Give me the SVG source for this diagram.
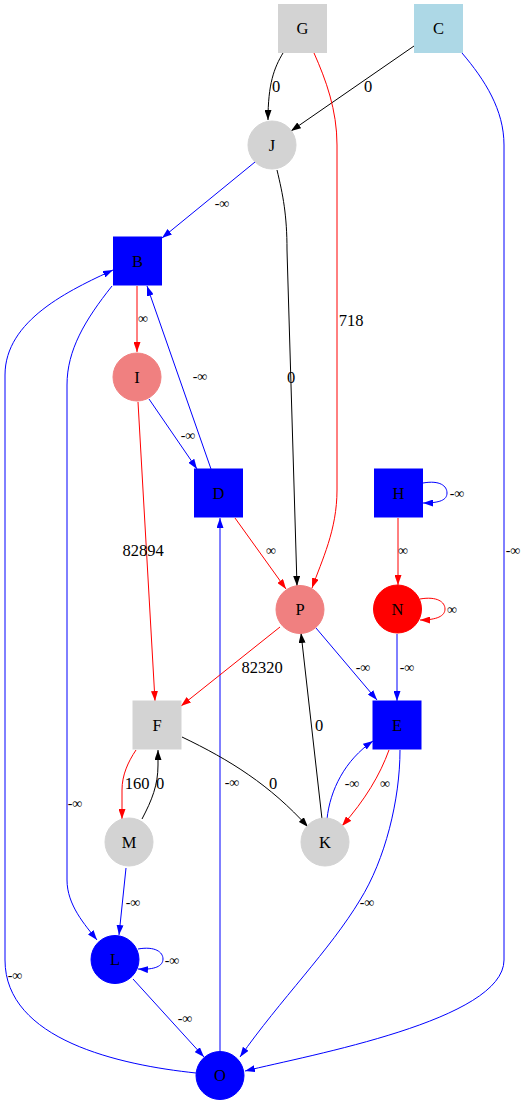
<svg xmlns="http://www.w3.org/2000/svg" width="529" height="1105" viewBox="0 0 529 1105">
<style>
text{font-family:"Liberation Serif","Times New Roman",serif;font-size:16.5px;text-anchor:middle;fill:#000}
text.i{font-size:14px}
.e path{fill:none;stroke-width:1}
.k{stroke:#000}
.r{stroke:#f00}
.b{stroke:#00f}
.gray{fill:#d3d3d3;stroke:#d3d3d3}
.lb{fill:#add8e6;stroke:#add8e6}
.bl{fill:#00f;stroke:#00f}
.rd{fill:#f00;stroke:#f00}
.lc{fill:#f08080;stroke:#f08080}
</style>
<defs>
<marker id="ak" markerUnits="userSpaceOnUse" markerWidth="10" markerHeight="7" refX="10" refY="3.5" orient="auto"><path d="M0,0 L10,3.5 L0,7 z" fill="#000"/></marker>
<marker id="ar" markerUnits="userSpaceOnUse" markerWidth="10" markerHeight="7" refX="10" refY="3.5" orient="auto"><path d="M0,0 L10,3.5 L0,7 z" fill="#f00"/></marker>
<marker id="ab" markerUnits="userSpaceOnUse" markerWidth="10" markerHeight="7" refX="10" refY="3.5" orient="auto"><path d="M0,0 L10,3.5 L0,7 z" fill="#00f"/></marker>
</defs>
<rect width="529" height="1105" fill="#fff"/>
<g id="edges" class="e">
<path class="k" marker-end="url(#ak)" d="M283,53 C274,68 268,84 268,120"/>
<text x="276" y="92">0</text>
<path class="k" marker-end="url(#ak)" d="M414,46 L291,131"/>
<text x="368" y="92">0</text>
<path class="r" marker-end="url(#ar)" d="M314,53 C326,80 337,110 337,145 L337,490 C337,530 322,560 312,588"/>
<text x="351" y="326">718</text>
<path class="b" marker-end="url(#ab)" d="M462,53 C485,80 504,110 504,145 L504,960 C504,1020 310,1055 245,1071"/>
<text class="i" x="513" y="555">-∞</text>
<path class="b" marker-end="url(#ab)" d="M255,162 L162,238"/>
<text class="i" x="222" y="208">-∞</text>
<path class="k" marker-end="url(#ak)" d="M277,170 C283,195 287,215 287,250 L297,586"/>
<text x="291" y="383">0</text>
<path class="r" marker-end="url(#ar)" d="M137,286 L137,352"/>
<text class="i" x="143" y="323">∞</text>
<path class="b" marker-end="url(#ab)" d="M112,286 C85,320 67,350 67,385 L67,880 C67,905 85,925 97,940"/>
<text class="i" x="75" y="808">-∞</text>
<path class="b" marker-end="url(#ab)" d="M196,1073 C120,1065 5,1040 5,960 L5,375 C5,320 70,290 113,270"/>
<text class="i" x="15" y="980">-∞</text>
<path class="b" marker-end="url(#ab)" d="M211,469 L147,286"/>
<text class="i" x="200" y="381">-∞</text>
<path class="b" marker-end="url(#ab)" d="M149,399 L197,469"/>
<text class="i" x="188" y="440">-∞</text>
<path class="r" marker-end="url(#ar)" d="M138,402 L155,701"/>
<text x="143" y="556">82894</text>
<path class="r" marker-end="url(#ar)" d="M235,518 L286,589"/>
<text class="i" x="271" y="555">∞</text>
<path class="b" marker-end="url(#ab)" d="M220,1051 L220,518"/>
<text class="i" x="232" y="787">-∞</text>
<path class="b" marker-end="url(#ab)" d="M423,483 C440,480 447,486 447,493 C447,500 440,503 423,503"/>
<text class="i" x="457" y="498">-∞</text>
<path class="r" marker-end="url(#ar)" d="M398,518 L398,585"/>
<text class="i" x="403" y="555">∞</text>
<path class="r" marker-end="url(#ar)" d="M420,599 C437,596 445,602 445,609 C445,616 437,620 420,620"/>
<text class="i" x="452" y="614">∞</text>
<path class="b" marker-end="url(#ab)" d="M397,634 L397,701"/>
<text class="i" x="407" y="672">-∞</text>
<path class="b" marker-end="url(#ab)" d="M316,628 L377,700"/>
<text class="i" x="363" y="672">-∞</text>
<path class="r" marker-end="url(#ar)" d="M280,627 L181,706"/>
<text x="262" y="673">82320</text>
<path class="k" marker-end="url(#ak)" d="M322,819 L301,633"/>
<text x="319" y="731">0</text>
<path class="r" marker-end="url(#ar)" d="M136,750 C128,762 122,775 122,790 L122,819"/>
<text x="137" y="789">160</text>
<path class="k" marker-end="url(#ak)" d="M142,819 C152,800 158,785 158,765 L158,750"/>
<text x="160" y="789">0</text>
<path class="k" marker-end="url(#ak)" d="M182,737 C230,760 270,785 308,827"/>
<text x="273" y="789">0</text>
<path class="b" marker-end="url(#ab)" d="M327,819 C330,790 345,760 373,741"/>
<text class="i" x="352" y="788">-∞</text>
<path class="r" marker-end="url(#ar)" d="M389,750 C380,775 365,800 342,826"/>
<text class="i" x="385" y="788">∞</text>
<path class="b" marker-end="url(#ab)" d="M400,750 C400,800 385,860 360,900 C330,950 280,1000 240,1057"/>
<text class="i" x="367" y="907">-∞</text>
<path class="b" marker-end="url(#ab)" d="M126,868 L119,935"/>
<text class="i" x="133" y="907">-∞</text>
<path class="b" marker-end="url(#ab)" d="M138,949 C155,946 163,952 163,959 C163,966 155,970 138,969"/>
<text class="i" x="172" y="965">-∞</text>
<path class="b" marker-end="url(#ab)" d="M133,979 L204,1057"/>
<text class="i" x="185" y="1023">-∞</text>
</g>
<g id="G"><rect class="gray" x="278.5" y="4.5" width="48" height="48"/><text x="302.5" y="34">G</text></g>
<g id="C"><rect class="lb" x="414.5" y="4.5" width="48" height="48"/><text x="438.5" y="34">C</text></g>
<g id="J"><circle class="gray" cx="272" cy="145" r="24"/><text x="272" y="150.5">J</text></g>
<g id="B"><rect class="bl" x="113.5" y="237" width="48" height="48"/><text x="137.5" y="266.5">B</text></g>
<g id="I"><circle class="lc" cx="137" cy="377" r="24"/><text x="137" y="382.5">I</text></g>
<g id="D"><rect class="bl" x="194.5" y="469" width="48" height="48"/><text x="218.5" y="498.5">D</text></g>
<g id="H"><rect class="bl" x="374.5" y="469" width="48" height="48"/><text x="398.5" y="498.5">H</text></g>
<g id="N"><circle class="rd" cx="397.5" cy="609" r="24"/><text x="397.5" y="614.5">N</text></g>
<g id="P"><circle class="lc" cx="300" cy="609.5" r="24"/><text x="300" y="615">P</text></g>
<g id="E"><rect class="bl" x="373" y="701" width="48" height="48"/><text x="397" y="730.5">E</text></g>
<g id="F"><rect class="gray" x="133" y="701" width="48" height="48"/><text x="157" y="730.5">F</text></g>
<g id="M"><circle class="gray" cx="129" cy="842" r="24"/><text x="129" y="847.5">M</text></g>
<g id="K"><circle class="gray" cx="325" cy="842" r="24"/><text x="325" y="847.5">K</text></g>
<g id="L"><circle class="bl" cx="115" cy="959.5" r="24"/><text x="115" y="965">L</text></g>
<g id="O"><circle class="bl" cx="220" cy="1075.5" r="24"/><text x="220" y="1081">O</text></g>
</svg>
